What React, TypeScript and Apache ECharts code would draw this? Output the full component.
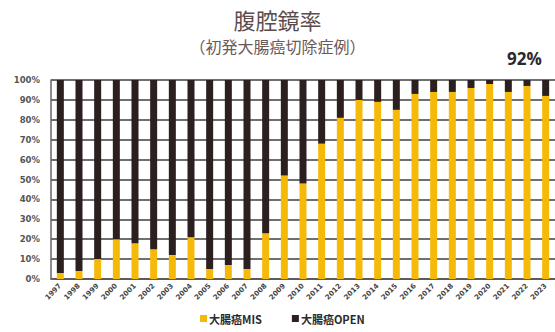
import React, { useEffect, useRef } from "react";
import * as echarts from "echarts";

const years = ["1997","1998","1999","2000","2001","2002","2003","2004","2005","2006","2007","2008","2009","2010","2011","2012","2013","2014","2015","2016","2017","2018","2019","2020","2021","2022","2023"];
const misValues = [3, 4, 10, 20, 18, 15, 12, 21, 5, 7, 5, 23, 52, 48, 68, 81, 90, 89, 85, 93, 94, 94, 96, 98, 94, 97, 92];
const openValues = [97, 96, 90, 80, 82, 85, 88, 79, 95, 93, 95, 77, 48, 52, 32, 19, 10, 11, 15, 7, 6, 6, 4, 2, 6, 3, 8];
const yTicks = [0, 10, 20, 30, 40, 50, 60, 70, 80, 90, 100];

const YELLOW = "#F5B90A";
const DARK = "#2B1F20";

export default function App() {
  const ref = useRef<HTMLDivElement>(null);
  useEffect(() => {
    if (!ref.current) return;
    const chart = echarts.init(ref.current, undefined, { renderer: "svg" });
    chart.setOption({
      animation: false,
      backgroundColor: "#ffffff",
      textStyle: { fontFamily: "'Noto Sans CJK JP', 'Noto Sans', sans-serif" },
      grid: { left: 51, top: 80, width: 509, height: 199 },
      legend: {
        bottom: 3,
        left: 195,
        itemWidth: 7,
        itemHeight: 7,
        itemGap: 30,
        icon: "rect",
        textStyle: { fontSize: 11, fontWeight: "bold", color: "#2a2a2a", fontFamily: "'Noto Sans CJK JP', sans-serif", padding: [0, 0, 0, -3] },
        data: ["大腸癌MIS", "大腸癌OPEN"],
      },
      xAxis: {
        type: "category",
        data: years,
        axisLine: { show: true, lineStyle: { color: "#555", width: 1.5 } },
        axisTick: { show: false },
        axisLabel: { interval: 0, rotate: 45, fontSize: 7, fontWeight: "bold", color: "#444", margin: 6, fontFamily: "'DejaVu Sans', sans-serif" },
        splitLine: { show: false },
      },
      yAxis: {
        type: "value",
        min: 0,
        max: 100,
        interval: 10,
        axisLine: { show: true, lineStyle: { color: "#666", width: 1.5 } },
        axisTick: { show: true, inside: true, length: 3, lineStyle: { color: "#666" } },
        axisLabel: { fontSize: 8.5, fontWeight: "bold", color: "#555", margin: 11, fontFamily: "'DejaVu Sans', sans-serif", formatter: (v: number) => (yTicks.includes(v) ? v + "%" : "") },
        splitLine: { show: true, lineStyle: { color: "#6f6f6f", width: 1.8 } },
      },
      series: [
        {
          name: "大腸癌MIS",
          type: "bar",
          stack: "s",
          data: misValues,
          barWidth: 7,
          itemStyle: { color: YELLOW },
        },
        {
          name: "大腸癌OPEN",
          type: "bar",
          stack: "s",
          data: openValues,
          barWidth: 7,
          itemStyle: { color: DARK },
        },
      ],
      graphic: [
        {
          type: "text",
          left: "center",
          top: 8,
          style: { text: "腹腔鏡率", fontSize: 22, fill: "#5b4c4c", fontFamily: "'Noto Sans CJK JP', sans-serif" },
        },
        {
          type: "text",
          left: "center",
          top: 38,
          style: { text: "（初発大腸癌切除症例）", fontSize: 16, fill: "#6a5a5a", fontFamily: "'Noto Sans CJK JP', sans-serif" },
        },
        {
          type: "text",
          left: 507,
          top: 50,
          style: { text: "92%", fontSize: 17, fontWeight: "bold", fill: "#2a2a2a", fontFamily: "'Open Sans', sans-serif" },
        },
      ],
    });
    return () => chart.dispose();
  }, []);
  return <div ref={ref} style={{ position: "fixed", left: 0, top: 0, width: 555, height: 332 }} />;
}
